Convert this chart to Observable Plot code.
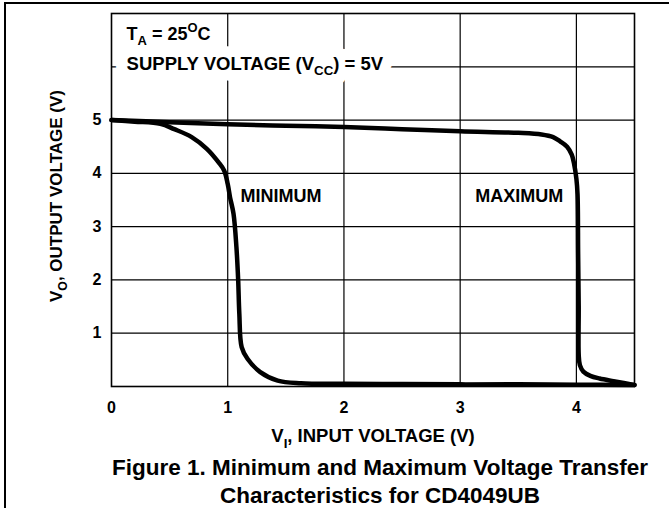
<!DOCTYPE html>
<html><head><meta charset="utf-8">
<script src="https://cdn.jsdelivr.net/npm/d3@7"></script>
<script src="https://cdn.jsdelivr.net/npm/@observablehq/plot@0.6"></script>
<style>
body{margin:0;background:#fff;font-family:"Liberation Sans",Arial,Helvetica,sans-serif;}
#wrap{position:relative;width:669px;height:508px;overflow:hidden;background:#fff;}
#border{position:absolute;left:4px;top:2px;width:800px;height:600px;border-left:2px solid #000;border-top:2px solid #000;}
#chart{position:absolute;left:0;top:0;}
#title{position:absolute;left:84px;width:592px;top:454px;text-align:center;font-weight:bold;font-size:22.5px;line-height:28px;color:#000;}
</style></head><body>
<div id="wrap"><div id="border"></div><div id="chart"></div>
<div id="title">Figure 1. Minimum and Maximum Voltage Transfer<br>Characteristics for CD4049UB</div></div>
<script>
// Input voltage (V) / output voltage (V)
const minimumVin  = [0, 0.2, 0.42, 0.54, 0.69, 0.82, 0.92, 0.97, 1.0, 1.02, 1.05, 1.075, 1.09, 1.10, 1.12, 1.17, 1.28, 1.43, 1.63, 2.0, 2.5, 3.0, 3.5, 4.0, 4.5];
const minimumVout = [5.0, 4.97, 4.93, 4.83, 4.68, 4.46, 4.21, 4.05, 3.8, 3.55, 3.24, 2.61, 1.99, 1.36, 0.74, 0.52, 0.27, 0.11, 0.06, 0.05, 0.045, 0.04, 0.04, 0.035, 0.03];
const maximumVin  = [0, 0.5, 1.0, 1.5, 2.0, 2.5, 3.0, 3.5, 3.7, 3.8, 3.86, 3.92, 3.96, 3.98, 4.0, 4.01, 4.015, 4.02, 4.02, 4.03, 4.06, 4.12, 4.2, 4.32, 4.42, 4.5];
const maximumVout = [5.0, 4.96, 4.92, 4.895, 4.87, 4.83, 4.79, 4.76, 4.73, 4.68, 4.6, 4.5, 4.35, 4.18, 3.9, 3.6, 2.5, 1.5, 0.6, 0.4, 0.28, 0.2, 0.15, 0.1, 0.06, 0.03];

const xTicks = [0, 1, 2, 3, 4];
const yTicks = [1, 2, 3, 4, 5];
const xGrid = [1, 2, 3, 4];
const yGrid = [1, 2, 3, 4, 5, 6];

const curveLabels = [
  {x: 1.11, y: 3.58, text: "MINIMUM"},
  {x: 3.13, y: 3.58, text: "MAXIMUM"}
];
const tempNote = [{x: 0.13, y: 6.62, text: "T_{A} = 25^{O}C"}];
const supplyNote = [{x: 0.13, y: 6.06, text: "SUPPLY VOLTAGE (V_{CC}) = 5V"}];
const xLabel = "V_{I}, INPUT VOLTAGE (V)";
const yLabel = "V_{O}, OUTPUT VOLTAGE (V)";

const minimum = minimumVin.map((v, i) => ({vin: v, vout: minimumVout[i]}));
const maximum = maximumVin.map((v, i) => ({vin: v, vout: maximumVout[i]}));

const font = "'Liberation Sans', Arial, Helvetica, sans-serif";
const bold = {fontWeight: "bold", fill: "#000"};

const plot = Plot.plot({
  width: 669,
  height: 460,
  marginLeft: 111,
  marginRight: 35,
  marginTop: 13,
  marginBottom: 74,
  style: {fontFamily: font, fontSize: "15px", fontWeight: "bold", color: "#000", background: "transparent"},
  x: {domain: [0, 4.5], axis: null},
  y: {domain: [0, 7], axis: null},
  marks: [
    Plot.gridX(xGrid, {stroke: "#000", strokeOpacity: 1, strokeWidth: 1.2}),
    Plot.gridY(yGrid, {stroke: "#000", strokeOpacity: 1, strokeWidth: 1.2}),
    Plot.frame({stroke: "#000", strokeWidth: 1.6}),
    // tick labels
    Plot.text(xTicks, {x: d => d, frameAnchor: "bottom", text: d => String(d), dy: 21, lineAnchor: "middle", fontSize: 16, ...bold}),
    Plot.text(yTicks, {y: d => d, frameAnchor: "left", text: d => String(d), dx: -10, textAnchor: "end", fontSize: 16, ...bold}),
    // halo behind the supply note (blanks the gridlines)
    Plot.text(supplyNote, {x: "x", y: "y", text: "text", textAnchor: "start", fontSize: 18.5, fontWeight: "bold", fill: "white", stroke: "white", strokeWidth: 22}),
    Plot.text(supplyNote, {x: "x", y: "y", text: "text", textAnchor: "start", fontSize: 18.5, ...bold}),
    Plot.text(tempNote, {x: "x", y: "y", text: "text", textAnchor: "start", fontSize: 18, ...bold}),
    Plot.text(curveLabels, {x: "x", y: "y", text: "text", textAnchor: "start", fontSize: 18, ...bold}),
    Plot.line(minimum, {x: "vin", y: "vout", stroke: "#000", strokeWidth: 4.5, curve: "catmull-rom", strokeLinecap: "round", strokeLinejoin: "round"}),
    Plot.line(maximum, {x: "vin", y: "vout", stroke: "#000", strokeWidth: 4.5, curve: "catmull-rom", strokeLinecap: "round", strokeLinejoin: "round"}),
    Plot.text([xLabel], {frameAnchor: "bottom", text: d => d, dy: 50, lineAnchor: "middle", textAnchor: "middle", fontSize: 18.5, ...bold}),
    Plot.text([yLabel], {frameAnchor: "left", text: d => d, dx: -55, dy: -4, rotate: -90, lineAnchor: "middle", textAnchor: "middle", fontSize: 17, ...bold})
  ]
});

document.getElementById("chart").appendChild(plot);

// Render _{sub} and ^{sup} markup as tspans
d3.select(plot).selectAll("text").each(function() {
  const t = this.textContent;
  if (!/[_^]\{/.test(t)) return;
  const fs = parseFloat(getComputedStyle(this).fontSize) || 17;
  const el = d3.select(this);
  el.text(null);
  let shift = 0;
  const add = (s, kind) => {
    if (!s) return;
    const ts = el.append("tspan").text(s);
    const target = kind === "_" ? 0.3 * fs : kind === "^" ? -0.42 * fs : 0;
    const dy = target - shift;
    if (dy) ts.attr("dy", dy);
    shift = target;
    if (kind) ts.attr("font-size", 0.72 * fs);
  };
  const re = /([_^])\{([^}]*)\}/g;
  let last = 0, m;
  while ((m = re.exec(t))) {
    add(t.slice(last, m.index), null);
    add(m[2], m[1]);
    last = re.lastIndex;
  }
  add(t.slice(last), null);
});
</script>
</body></html>
